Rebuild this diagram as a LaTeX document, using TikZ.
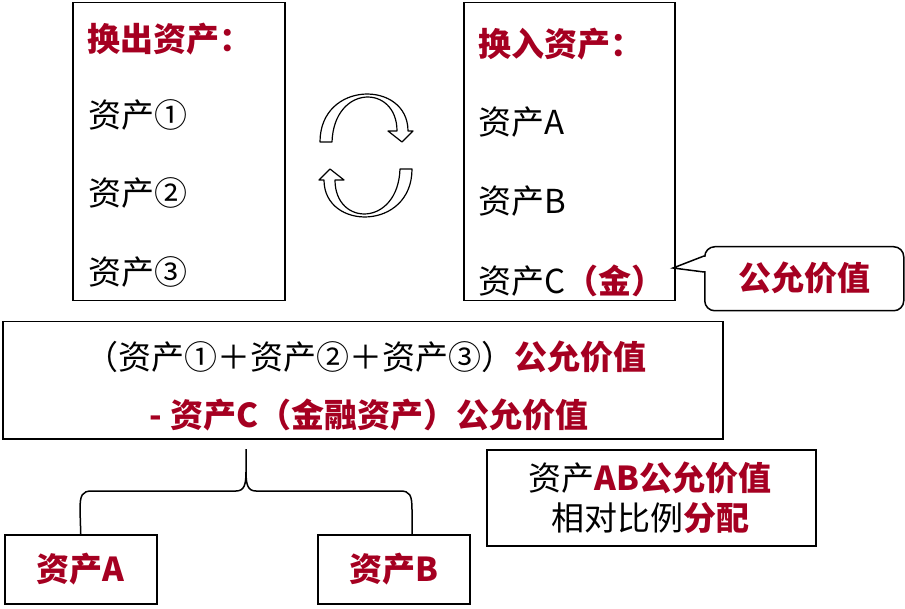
\documentclass[tikz,border=0pt]{standalone}
\usepackage{fontspec}
\setmainfont{Noto Sans CJK SC}
\definecolor{dred}{RGB}{165,0,33}
\newcommand\redb[1]{{\color{dred}\bfseries #1}}
\tikzset{
  box/.style={draw=black,line width=1.5pt,inner sep=0pt,anchor=north west},
  txt/.style={font=\fontsize{33}{38}\selectfont,inner sep=0pt,anchor=west},
  ctxt/.style={font=\fontsize{33}{38}\selectfont,inner sep=0pt,anchor=center,align=center},
  cyc/.style={draw=black,line width=1.2pt,fill=white,line join=round},
  brace/.style={draw=black,line width=1.5pt}
}
\begin{document}
\begin{tikzpicture}[x=1pt,y=-1pt]
\useasboundingbox (0,0) rectangle (905,609);
% boxes
\node[box,minimum width=212pt,minimum height=298pt] (L) at (72,2) {};
\node[box,minimum width=211pt,minimum height=298pt] (R) at (463,2) {};
\node[box,minimum width=720pt,minimum height=117pt] (M) at (2,321) {};
\node[box,minimum width=329pt,minimum height=96pt] (N) at (486,449) {};
\node[box,minimum width=152pt,minimum height=69pt] (A) at (4,534) {};
\node[box,minimum width=152pt,minimum height=69pt] (B) at (317,534) {};
\node[box,rounded corners=10pt,minimum width=199pt,minimum height=64pt] (CB) at (704,246) {};
% callout pointer
\coordinate (tip) at (673,268);
\fill[white] (702,257) rectangle (706.5,271);
\draw[line width=1.5pt,line join=miter] (704,256) -- (tip) -- (704,272);
% left box text
\node[txt] (l0) at (87,39) {\redb{换出资产：}};
\node[txt] (l1) at (88,115) {资产①};
\node[txt] (l2) at (88,193) {资产②};
\node[txt] (l3) at (88,272) {资产③};
% right box text
\node[txt] (r0) at (478,44) {\redb{换入资产：}};
\node[txt] (r1) at (478,122) {资产A};
\node[txt] (r2) at (478,201) {资产B};
\node[txt] (r3) at (478,281) {资产C\redb{（金）}};
% callout text
\node[ctxt] (ct) at (804,278) {\redb{公允价值}};
% middle box text
\node[ctxt] (m1) at (366,357) {（资产①＋资产②＋资产③）\redb{公允价值}};
\node[ctxt] (m2) at (369,415) {\redb{- 资产C（金融资产）公允价值}};
% bottom right text
\node[ctxt] (n1) at (650,478) {资产\redb{AB公允价值}};
\node[ctxt] (n2) at (650,518) {相对比例\redb{分配}};
% A, B text
\node[ctxt] (at) at (A.center) {\redb{资产A}};
\node[ctxt] (bt) at (B.center) {\redb{资产B}};
% cycle arrows
\begin{scope}
\path[cyc] (320,142) -- (332,142) .. controls (334,84) and (397,84) .. (397,131)
  -- (388,131) -- (402,142) -- (413,131) -- (408,131)
  .. controls (408,80) and (320,80) .. (320,142) -- cycle;
\end{scope}
\begin{scope}[rotate around={180:(366,155.5)}]
\path[cyc] (320,142) -- (332,142) .. controls (334,84) and (397,84) .. (397,131)
  -- (388,131) -- (402,142) -- (413,131) -- (408,131)
  .. controls (408,80) and (320,80) .. (320,142) -- cycle;
\end{scope}
% brace
\coordinate (btop) at (246,449);
\coordinate (bA) at (A.north);
\coordinate (bB) at (412,534);
\draw[brace] (bA) -- (80,510) .. controls (80,495) and (82,491) .. (92,491) -- (236,491)
  .. controls (244,491) and (246,485) .. (246,472) -- (btop);
\draw[brace] (bB) -- (412,510) .. controls (412,495) and (410,491) .. (400,491) -- (256,491)
  .. controls (248,491) and (246,485) .. (246,472);
\end{tikzpicture}
\end{document}
